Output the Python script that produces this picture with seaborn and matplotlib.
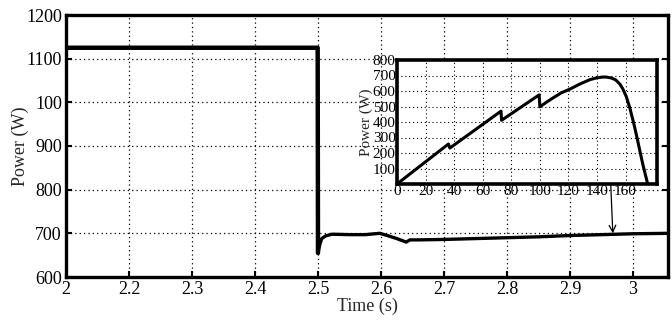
import numpy as np
import pandas as pd
import matplotlib
matplotlib.use("Agg")
import matplotlib.pyplot as plt
import seaborn as sns

# ---- main time-series data ----
time_s = [2.10, 2.30, 2.4995, 2.5, 2.503, 2.506, 2.512, 2.522, 2.55, 2.575, 2.59, 2.598,
          2.61, 2.625, 2.64, 2.646, 2.66, 2.70, 2.75, 2.80, 2.85, 2.90, 2.95, 3.00, 3.056]
power_w = [1125, 1125, 1125, 655, 675, 688, 694, 698, 697, 697, 699, 700,
           695, 688, 680, 685, 685, 686, 688, 690, 692, 695, 697, 699, 700]

xtick_pos = [2.1, 2.2, 2.3, 2.4, 2.5, 2.6, 2.7, 2.8, 2.9, 3.0]
xtick_labels = ["2", "2.2", "2.3", "2.4", "2.5", "2.6", "2.7", "2.8", "2.9", "3"]
ytick_pos = [600, 700, 800, 900, 1000, 1100, 1200]
ytick_labels = ["600", "700", "800", "900", "100", "1100", "1200"]

# ---- inset P-V curve data ----
pv_voltage = [0, 36, 37, 72.8, 73.2, 99.5, 100, 105, 110, 115, 121, 128, 135, 140, 144, 146.5,
              150, 153, 156, 158, 160.5, 163, 165.5, 168, 170, 172, 174, 175.5]
pv_power = [0, 258, 232, 470, 411, 575, 498, 530, 560, 588, 612, 645, 673, 685, 690, 690,
            684, 672, 645, 615, 564, 490, 400, 300, 214, 130, 55, 0]
inset_xticks = [0, 20, 40, 60, 80, 100, 120, 140, 160]
inset_yticks = [100, 200, 300, 400, 500, 600, 700, 800]

sns.set_theme(style="white")
plt.rcParams["font.family"] = ["Liberation Serif", "DejaVu Serif"]

W, H = 672, 320
fig = plt.figure(figsize=(W / 100, H / 100), dpi=100)
ax = fig.add_axes([66 / W, 1 - 277 / H, (668 - 66) / W, (277 - 15) / H])

main_df = pd.DataFrame({"t": time_s, "p": power_w})
pre = main_df[main_df.t <= 2.5]
post = main_df[main_df.t >= 2.5]
sns.lineplot(data=pre, x="t", y="p", ax=ax, color="black", lw=3.2, estimator=None, sort=False)
sns.lineplot(data=post, x="t", y="p", ax=ax, color="black", lw=2.4, estimator=None, sort=False)

ax.set_xlim(2.1, 3.0556)
ax.set_ylim(600, 1200)
ax.set_xticks(xtick_pos)
ax.set_xticklabels(xtick_labels)
ax.set_yticks(ytick_pos)
ax.set_yticklabels(ytick_labels)
ax.grid(True, linestyle=(0, (1, 2.5)), color="black", lw=0.9)
ax.tick_params(direction="in", length=4, width=1.5, labelsize=13, colors="black",
               right=True, top=False, left=True, bottom=True, pad=3)
for s in ax.spines.values():
    s.set_linewidth(2.4)
    s.set_color("black")
ax.set_xlabel("Time (s)", fontsize=13, labelpad=0)
ax.set_ylabel("Power (W)", fontsize=13, labelpad=-2)

# ---- inset ----
ins = fig.add_axes([397 / W, 1 - 184 / H, (657 - 397) / W, (184 - 60) / H])
pv_df = pd.DataFrame({"v": pv_voltage, "p": pv_power})
sns.lineplot(data=pv_df, x="v", y="p", ax=ins, color="black", lw=2.2, estimator=None, sort=False)
ins.set_xlim(0, 182)
ins.set_ylim(0, 800)
ins.set_xticks(inset_xticks)
ins.set_xticklabels([str(v) for v in inset_xticks])
ins.set_yticks(inset_yticks)
ins.set_yticklabels([str(v) for v in inset_yticks])
ins.grid(True, linestyle=(0, (1, 2.5)), color="black", lw=0.8)
ins.tick_params(direction="in", length=0, labelsize=11, colors="black", pad=1)
for s in ins.spines.values():
    s.set_linewidth(2.6)
    s.set_color("black")
ins.set_xlabel("")
ins.set_ylabel("Power (W)", fontsize=11, labelpad=0)

# arrow from inset peak to main trace
ax.annotate("", xy=(2.968, 700), xycoords=ax.transData,
            xytext=(146.5, 680), textcoords=ins.transData,
            arrowprops=dict(arrowstyle="->", color="black", lw=0.9, shrinkA=0, shrinkB=0),
            zorder=10)

fig.savefig("out.png", dpi=100)
